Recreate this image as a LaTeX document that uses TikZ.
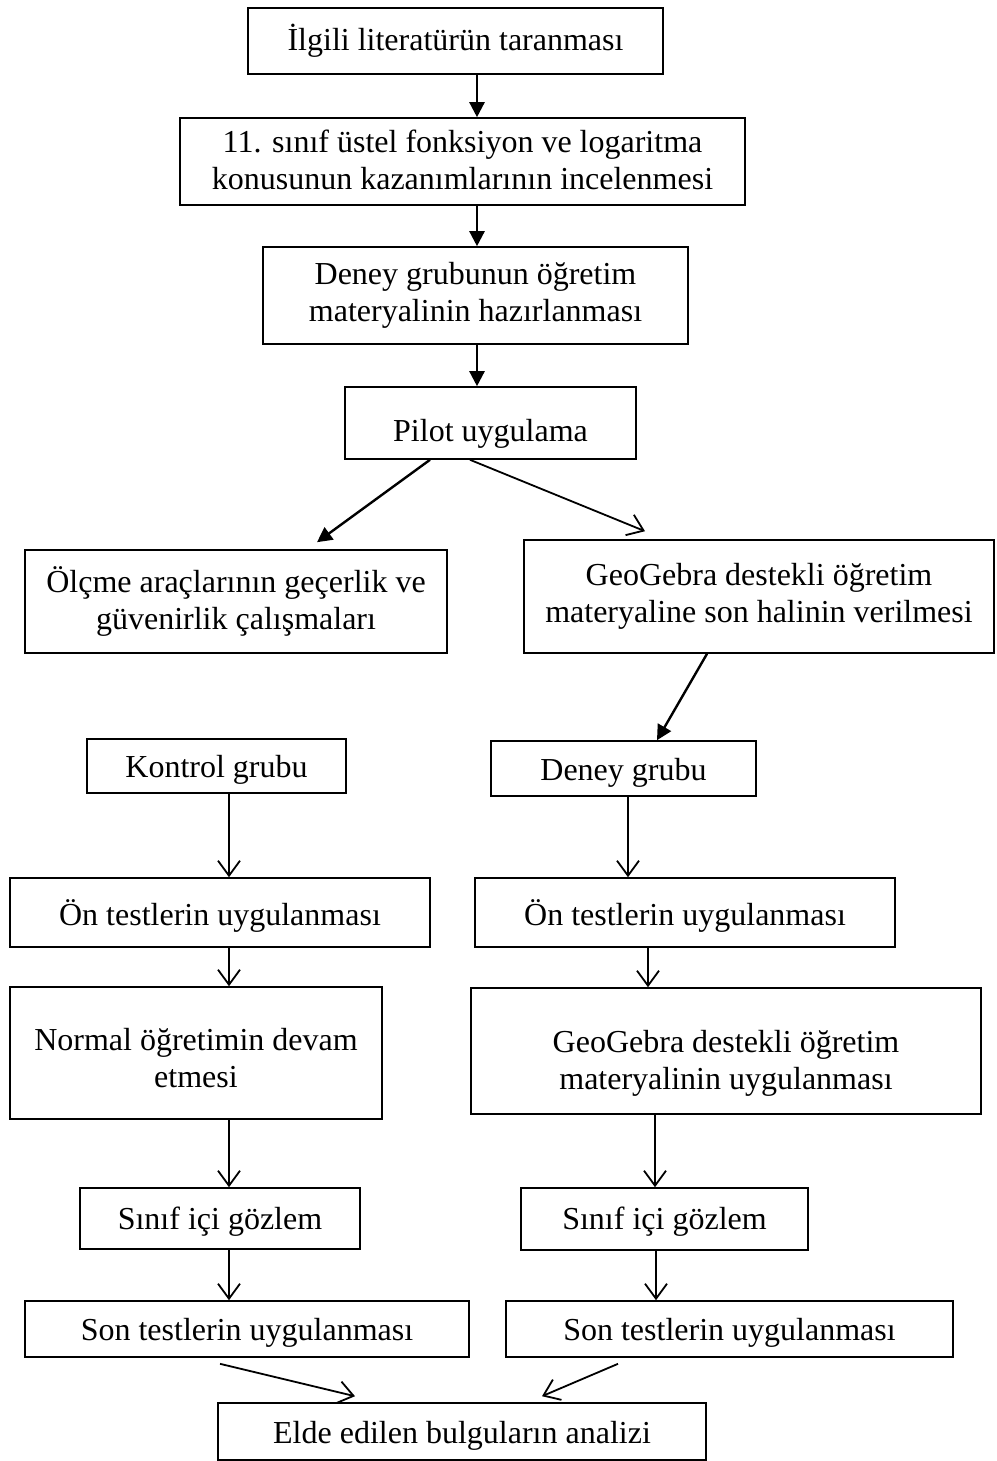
\documentclass[tikz,border=0pt]{standalone}
\usepackage{fontspec}
\setmainfont{Liberation Serif}
\usetikzlibrary{arrows.meta,positioning,calc}
\tikzstyle{box} = [rectangle, draw=black, line width=1.6pt, inner sep=0pt, align=center, font=\fontsize{32}{37}\selectfont]
\tikzstyle{drop} = [text depth=0pt, text height=#1]
\tikzstyle{flow} = [line width=2.4pt, -{Triangle[length=15pt,width=15pt]}]
\tikzstyle{openflow} = [line width=1.8pt, -{Straight Barb[length=15pt,width=22pt,line width=1.8pt]}]

\begin{document}
\begin{tikzpicture}[x=1pt, y=-1pt]
\useasboundingbox (0,0) rectangle (996,1461);

% HAZIRLIK
\node (lit) [box, minimum width=415pt, minimum height=66pt] at (455.5,41) {İlgili literatürün taranması};
\node (kaz) [box, drop=56pt, minimum width=565pt, minimum height=87pt] at (462.5,161.5) {11. sınıf üstel fonksiyon ve logaritma\\konusunun kazanımlarının incelenmesi};
\node (mat) [box, minimum width=425pt, minimum height=97pt] at (475.5,295.5) {Deney grubunun öğretim\\materyalinin hazırlanması};
\node (pilot) [box, drop=37pt, minimum width=291pt, minimum height=72pt] at (490.5,423) {Pilot uygulama};
\node (olcme) [box, minimum width=422pt, minimum height=103pt] at (236,601.5) {Ölçme araçlarının geçerlik ve\\güvenirlik çalışmaları};
\node (sonhal) [box, minimum width=470pt, minimum height=113pt] at (759,596.5) {GeoGebra destekli öğretim\\materyaline son halinin verilmesi};

% KONTROL GRUBU
\node (kontrol) [box, drop=23pt, minimum width=259pt, minimum height=54pt] at (216.5,766) {Kontrol grubu};
\node (onL) [box, drop=25pt, minimum width=420pt, minimum height=69pt] at (220,912.5) {Ön testlerin uygulanması};
\node (normal) [box, drop=68pt, minimum width=372pt, minimum height=132pt] at (196,1053) {Normal öğretimin devam\\etmesi};
\node (gozL) [box, drop=21pt, minimum width=280pt, minimum height=61pt] at (220,1218.5) {Sınıf içi gözlem};
\node (sonL) [box, drop=23pt, minimum width=444pt, minimum height=56pt] at (247,1329) {Son testlerin uygulanması};

% DENEY GRUBU
\node (deney) [box, drop=23pt, minimum width=265pt, minimum height=55pt] at (623.5,768.5) {Deney grubu};
\node (onR) [box, drop=25pt, minimum width=420pt, minimum height=69pt] at (685,912.5) {Ön testlerin uygulanması};
\node (geouyg) [box, drop=76pt, minimum width=510pt, minimum height=126pt] at (726,1051) {GeoGebra destekli öğretim\\materyalinin uygulanması};
\node (gozR) [box, drop=21pt, minimum width=287pt, minimum height=62pt] at (664.5,1219) {Sınıf içi gözlem};
\node (sonR) [box, drop=23pt, minimum width=447pt, minimum height=56pt] at (729.5,1329) {Son testlerin uygulanması};

% ANALIZ
\node (analiz) [box, drop=23pt, minimum width=488pt, minimum height=57pt] at (462,1431.5) {Elde edilen bulguların analizi};

% PFEILE - ust kisim
\coordinate (axis) at (477,0);
\coordinate (laxis) at (229,0);
\draw [flow] (lit.south -| axis) -- (kaz.north -| axis);
\draw [flow] (kaz.south -| axis) -- (mat.north -| axis);
\draw [flow] (mat.south -| axis) -- (pilot.north -| axis);
\draw [flow] ([xshift=-60.5pt]pilot.south) -- ([xshift=81pt,yshift=7pt]olcme.north);
\draw [openflow] ([xshift=-20.5pt]pilot.south) -- ([xshift=-114pt,yshift=8pt]sonhal.north);
\draw [flow] ([xshift=-52pt]sonhal.south) -- ([xshift=33.5pt]deney.north);

% PFEILE - kontrol grubu
\draw [openflow] (kontrol.south -| laxis) -- (onL.north -| laxis);
\draw [openflow] (onL.south -| laxis) -- (normal.north -| laxis);
\draw [openflow] (normal.south -| laxis) -- (gozL.north -| laxis);
\draw [openflow] (gozL.south -| laxis) -- (sonL.north -| laxis);

% PFEILE - deney grubu
\draw [openflow] ([xshift=4.5pt]deney.south) -- ([xshift=-57pt]onR.north);
\draw [openflow] ([xshift=-37pt]onR.south) -- ([xshift=-78pt]geouyg.north);
\draw [openflow] ([xshift=-71pt]geouyg.south) -- ([xshift=-9.5pt]gozR.north);
\draw [openflow] ([xshift=-8.5pt]gozR.south) -- ([xshift=-73.5pt]sonR.north);

% PFEILE - analiz
\draw [openflow] ([xshift=-27pt,yshift=-6pt]sonL.south) -- ([xshift=-107pt,yshift=6pt]analiz.north);
\draw [openflow] ([xshift=-111.5pt,yshift=-6pt]sonR.south) -- ([xshift=80pt,yshift=6pt]analiz.north);

\end{tikzpicture}
\end{document}
